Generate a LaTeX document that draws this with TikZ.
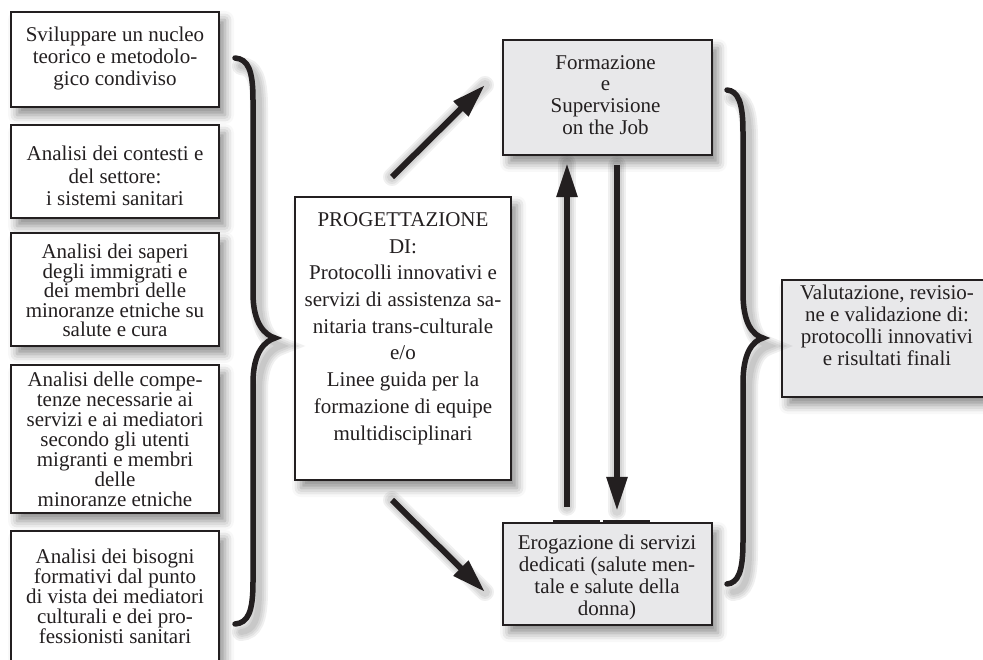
\documentclass[tikz,border=0pt]{standalone}
\usepackage{fontspec}
\setmainfont{Liberation Serif}
\usetikzlibrary{arrows.meta,shadows.blur}
\definecolor{ink}{HTML}{231F20}
\definecolor{boxgray}{HTML}{E8E8EA}
\newcommand\drawbrace[7]{%
 \draw[#1] (#2,#5) .. controls (#3-5,#5+1) and (#3,#5+12) .. (#3,#5+42)
   -- (#3,#6-45) .. controls (#3,#6-14) and (#4-10,#6-3) .. (#4,#6)
   .. controls (#4-10,#6+3) and (#3,#6+14) .. (#3,#6+45)
   -- (#3,#7-42) .. controls (#3,#7-12) and (#3-5,#7-1) .. (#2,#7);}
\begin{document}
\begin{tikzpicture}[x=1pt,y=-1pt,
  lbox/.style={draw=ink, line width=2.4pt, fill=white, inner sep=0pt,
     blur shadow={shadow xshift=6pt, shadow yshift=-8pt, shadow blur radius=9pt, shadow opacity=45}},
  gbox/.style={lbox, fill=boxgray},
  tx/.style={align=center, text=ink, inner sep=0pt, font=\fontsize{21}{#1}\selectfont},
  arr/.style={draw=ink, line width=6pt, -{Triangle[length=34pt,width=20pt]}},
  brace/.style={draw=ink, line width=5.5pt, line cap=round},
  sh/.style={draw=black, line width=#1, opacity=0.06, line cap=round, shift={(6,8)}},
]
\useasboundingbox (0,0) rectangle (983,660);

% left boxes
\node[lbox, minimum width=208pt, minimum height=95pt] (b1) at (115,59.5) {};
\node[lbox, minimum width=208pt, minimum height=93pt] (b2) at (115,171.5) {};
\node[lbox, minimum width=208pt, minimum height=113pt] (b3) at (115,289.5) {};
\node[lbox, minimum width=208pt, minimum height=148pt] (b4) at (115,439) {};
\node[lbox, minimum width=208pt, minimum height=159pt] (b5) at (115,610.5) {};

\node[tx=22] (t1) at (115,58) {Sviluppare un nucleo\\teorico e metodolo-\\gico condiviso};
\node[tx=22.5] (t2) at (115,176) {Analisi dei contesti e\\del settore:\\i sistemi sanitari};
\node[tx=19.6] (t3) at (115,290.5) {Analisi dei saperi\\degli immigrati e\\dei membri delle\\minoranze etniche su\\salute e cura};
\node[tx=20] (t4) at (115,439.5) {Analisi delle compe-\\tenze necessarie ai\\servizi e ai mediatori\\secondo gli utenti\\migranti e membri\\delle\\minoranze etniche};
\node[tx=20] (t5) at (115,596.5) {Analisi dei bisogni\\formativi dal punto\\di vista dei mediatori\\culturali e dei pro-\\fessionisti sanitari};

% central box
\node[lbox, minimum width=216pt, minimum height=283pt] (prog) at (403,338.5) {};
\node[tx=26.7] (tprog) at (403,328.5) {PROGETTAZIONE\\DI:\\Protocolli innovativi e\\servizi di assistenza sa-\\nitaria trans-culturale\\e/o\\Linee guida per la\\formazione di equipe\\multidisciplinari};

% right column
\node[gbox, minimum width=209pt, minimum height=115pt] (form) at (607.5,97.5) {};
\node[tx=21.7] (tform) at (605.5,95) {Formazione\\e\\Supervisione\\on the Job};
\node[gbox, minimum width=209pt, minimum height=102pt] (ero) at (607.5,574) {};
\node[tx=22] (tero) at (607,577.5) {Erogazione di servizi\\dedicati (salute men-\\tale e salute della\\donna)};
\draw[ink, line width=4pt] ([xshift=51pt]ero.north west) -- ([xshift=98pt]ero.north west);
\draw[ink, line width=4pt] ([xshift=101pt]ero.north west) -- ([xshift=148pt]ero.north west);

\node[gbox, minimum width=210pt, minimum height=117pt] (val) at (887,338.5) {};
\node[tx=22] (tval) at (887,325.5) {Valutazione, revisio-\\ne e validazione di:\\protocolli innovativi\\e risultati finali};

% braces
\foreach \w in {18,14,10,6}{\drawbrace{sh=\w pt}{235}{253}{275}{58}{338}{624}}
\drawbrace{brace}{235}{253}{275}{58}{338}{624}
\foreach \w in {18,14,10,6}{\drawbrace{sh=\w pt}{727}{743}{763}{90}{338}{584}}
\drawbrace{brace}{727}{743}{763}{90}{338}{584}

% arrows
\coordinate (a1s) at (392,177);
\coordinate (a1e) at (485,85);
\coordinate (a2s) at (392,500);
\coordinate (a2e) at (485,592);
\coordinate (ux) at (567,0);
\coordinate (dx) at (617,0);
\foreach \w in {18,14,10}{
  \draw[sh=\w pt] (a1s) -- (a1e);
  \draw[sh=\w pt] (a2s) -- (a2e);
  \draw[sh=\w pt, shorten <=15pt, shorten >=7pt] (ero.north -| ux) -- (form.south -| ux);
  \draw[sh=\w pt, shorten <=9pt, shorten >=11pt] (form.south -| dx) -- (ero.north -| dx);
}
\draw[arr] (a1s) -- (a1e);
\draw[arr] (a2s) -- (a2e);
\draw[arr, shorten <=15pt, shorten >=7pt] (ero.north -| ux) -- (form.south -| ux);
\draw[arr, shorten <=9pt, shorten >=11pt] (form.south -| dx) -- (ero.north -| dx);
\end{tikzpicture}
\end{document}
